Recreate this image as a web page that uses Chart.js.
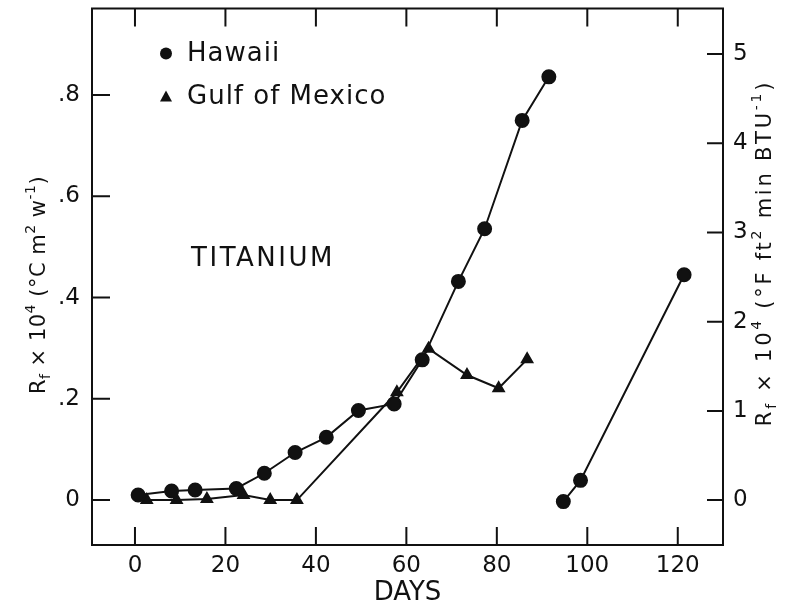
<!DOCTYPE html>
<html>
<head>
<meta charset="utf-8">
<script src="https://cdn.jsdelivr.net/npm/chart.js@4.4.1/dist/chart.umd.min.js"></script>
<style>
	body { margin: 0; background: #fff; }
	canvas { display: block; }
</style>
</head>
<body>
<canvas id="myChart" width="794" height="609"></canvas>
<script>
// data (days, Rf x 10^4 in °C m²/W)
const hawaiiDays = [0.7, 8.1, 13.3, 22.4, 28.6, 35.4, 42.3, 49.4, 57.3, 63.5, 71.5, 77.3, 85.6, 91.5];
const hawaiiRf = [0.010, 0.018, 0.020, 0.023, 0.053, 0.094, 0.124, 0.177, 0.190, 0.277, 0.432, 0.536, 0.750, 0.836];
const hawaiiDays2 = [94.7, 98.5, 121.4];
const hawaiiRf2 = [-0.003, 0.039, 0.445];
const gulfDays = [2.6, 9.2, 15.9, 24.0, 29.9, 35.8, 57.9, 64.9, 73.4, 80.4, 86.7];
const gulfRf = [0.000, 0.000, 0.002, 0.010, 0.000, 0.000, 0.213, 0.299, 0.247, 0.221, 0.278];

const seriesNames = ['Hawaii', 'Gulf of Mexico'];
const plotLabel = 'TITANIUM';
const xTitle = 'DAYS';

const FONT = '"DejaVu Sans", sans-serif';
const INK = '#111';

const ctx = document.getElementById('myChart').getContext('2d');

const toPoints = (xs, ys) => xs.map((x, i) => ({ x: x, y: ys[i] }));

// rotated axis title made of pieces (normal, sub, sup)
const drawRichTitle = (c, parts, x, y, size, spacing) => {
	c.save();
	c.translate(x, y);
	c.rotate(-Math.PI / 2);
	c.fillStyle = INK;
	c.textBaseline = 'alphabetic';
	c.letterSpacing = spacing + 'px';
	let total = 0;
	parts.forEach(p => {
		c.font = (p.small ? Math.round(size * 0.68) : size) + 'px ' + FONT;
		total += c.measureText(p.t).width;
	});
	let cx = -total / 2;
	parts.forEach(p => {
		c.font = (p.small ? Math.round(size * 0.68) : size) + 'px ' + FONT;
		c.fillText(p.t, cx, p.dy || 0);
		cx += c.measureText(p.t).width;
	});
	c.restore();
};

const leftTitle = [
	{ t: 'R' }, { t: 'f', small: true, dy: 5 }, { t: ' × 10' }, { t: '4', small: true, dy: -10 },
	{ t: ' (°C m' }, { t: '2', small: true, dy: -10 }, { t: ' w' }, { t: '-1', small: true, dy: -10 }, { t: ')' }
];
const rightTitle = [
	{ t: 'R' }, { t: 'f', small: true, dy: 5 }, { t: ' × 10' }, { t: '4', small: true, dy: -10 },
	{ t: ' (°F ft' }, { t: '2', small: true, dy: -10 }, { t: ' min BTU' }, { t: '-1', small: true, dy: -10 }, { t: ')' }
];

const noPad = (s) => {
	s.paddingTop = 0; s.paddingBottom = 0;
	s.paddingLeft = 0; s.paddingRight = 0;
};

const decorations = {
	id: 'decorations',
	afterDraw(chart) {
		const c = chart.ctx;
		const a = chart.chartArea;
		const sx = chart.scales.x;
		const sy = chart.scales.y;
		const sy2 = chart.scales.y2;
		c.save();
		c.strokeStyle = INK;
		c.lineWidth = 2;
		c.strokeRect(a.left, a.top, a.right - a.left, a.bottom - a.top);

		// inward tick marks
		c.beginPath();
		sx.ticks.forEach(t => {
			const px = sx.getPixelForValue(t.value);
			c.moveTo(px, a.bottom); c.lineTo(px, a.bottom - 18);
			c.moveTo(px, a.top); c.lineTo(px, a.top + 18);
		});
		sy.ticks.forEach(t => {
			const py = sy.getPixelForValue(t.value);
			c.moveTo(a.left, py); c.lineTo(a.left + 18, py);
		});
		sy2.ticks.forEach(t => {
			const py = sy2.getPixelForValue(t.value);
			c.moveTo(a.right, py); c.lineTo(a.right - 16, py);
		});
		c.stroke();

		// legend
		c.fillStyle = INK;
		c.beginPath();
		c.arc(a.left + 74, a.top + 45, 6, 0, Math.PI * 2);
		c.fill();
		c.beginPath();
		c.moveTo(a.left + 74, a.top + 82);
		c.lineTo(a.left + 80, a.top + 93);
		c.lineTo(a.left + 68, a.top + 93);
		c.closePath();
		c.fill();
		c.font = '26px ' + FONT;
		c.textBaseline = 'middle';
		c.textAlign = 'left';
		c.letterSpacing = '1px';
		c.fillText(seriesNames[0], a.left + 95, a.top + 46);
		c.fillText(seriesNames[1], a.left + 95, a.top + 89);

		// label inside plot
		c.font = '26px ' + FONT;
		c.letterSpacing = '2.5px';
		c.textAlign = 'center';
		c.fillText(plotLabel, sx.getPixelForValue(28.3), sy.getPixelForValue(0.475));
		c.restore();

		drawRichTitle(c, leftTitle, 45, 285, 21, 0.5);
		drawRichTitle(c, rightTitle, 771, 253, 21, 2.75);
	}
};

const chart = new Chart(ctx, {
	type: 'line',
	data: {
		datasets: [{
			label: seriesNames[0],
			data: toPoints(hawaiiDays, hawaiiRf),
			borderColor: INK,
			backgroundColor: INK,
			borderWidth: 2,
			pointStyle: 'circle',
			pointRadius: 6.5,
		}, {
			label: seriesNames[0] + ' (2)',
			data: toPoints(hawaiiDays2, hawaiiRf2),
			borderColor: INK,
			backgroundColor: INK,
			borderWidth: 2,
			pointStyle: 'circle',
			pointRadius: 6.5,
		}, {
			label: seriesNames[1],
			data: toPoints(gulfDays, gulfRf),
			borderColor: INK,
			backgroundColor: INK,
			borderWidth: 2,
			pointStyle: 'triangle',
			pointRadius: 6,
		}]
	},
	options: {
		responsive: false,
		animation: false,
		events: [],
		layout: { padding: { top: 7, left: 0, right: 0, bottom: 0 } },
		plugins: {
			legend: { display: false },
			tooltip: { enabled: false }
		},
		scales: {
			x: {
				type: 'linear',
				position: 'bottom',
				min: -9.5,
				max: 130,
				grid: { display: false, drawTicks: false },
				border: { display: false },
				ticks: { stepSize: 20, includeBounds: false, color: INK, padding: 7, font: { family: FONT, size: 23 } },
				title: { display: true, text: xTitle, color: INK, padding: 0, font: { family: FONT, size: 26 } },
				afterFit: (s) => { noPad(s); s.height = 64; }
			},
			y: {
				position: 'left',
				min: -0.0887,
				max: 0.971,
				grid: { display: false, drawTicks: false },
				border: { display: false },
				ticks: {
					stepSize: 0.2, includeBounds: false, color: INK, padding: 12,
					font: { family: FONT, size: 23 },
					callback: (v) => v === 0 ? '0' : '.' + Math.round(v * 10)
				},
				afterFit: (s) => { noPad(s); s.width = 92; }
			},
			y2: {
				position: 'right',
				min: -0.503,
				max: 5.51,
				grid: { display: false, drawTicks: false },
				border: { display: false },
				ticks: { stepSize: 1, includeBounds: false, color: INK, padding: 10, font: { family: FONT, size: 23 } },
				afterFit: (s) => { noPad(s); s.width = 71; }
			}
		}
	},
	plugins: [decorations]
});
</script>
</body>
</html>
